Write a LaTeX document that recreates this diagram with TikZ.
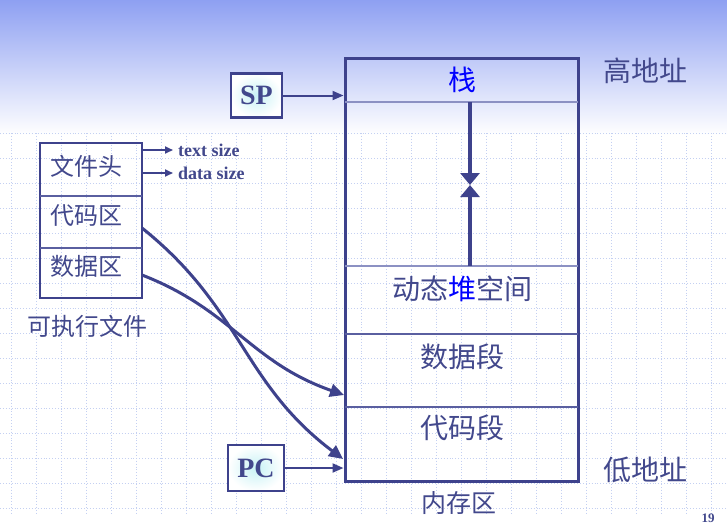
\documentclass[tikz,border=0pt]{standalone}
\usepackage{fontspec}
\setmainfont{Liberation Serif}
\newfontfamily\cjk{Noto Sans CJK SC}
\usetikzlibrary{arrows.meta}
\definecolor{ink}{RGB}{62,66,140}
\definecolor{txt}{RGB}{66,72,140}
\definecolor{lightdiv}{RGB}{140,145,195}
\definecolor{middiv}{RGB}{90,95,160}
\definecolor{gridc}{RGB}{196,208,242}
\definecolor{topblue}{RGB}{142,160,242}
\definecolor{regfill}{RGB}{200,242,245}
\tikzset{
  membox/.style={draw=ink, line width=3pt, minimum width=233pt, minimum height=423pt, inner sep=0pt},
  filebox/.style={draw=ink, line width=2.5pt, minimum width=102pt, minimum height=155pt, inner sep=0pt},
  regbox/.style={draw=ink, line width=2.5pt, inner sep=0pt, shading=radial, inner color=regfill, outer color=white, text=txt, font=\fontsize{28}{28}\selectfont\bfseries},
  memlabel/.style={text=txt, inner sep=0pt, font=\fontsize{28}{30}\selectfont\cjk},
  filelabel/.style={text=txt, inner sep=0pt, font=\fontsize{24}{26}\selectfont\cjk},
  sizelabel/.style={text=txt, inner sep=0pt, anchor=west, font=\fontsize{18}{18}\selectfont\bfseries},
  arr/.style={draw=ink, line width=2pt, -{Triangle[length=11pt,width=9pt]}},
  smallarr/.style={draw=ink, line width=1.8pt, -{Triangle[length=8pt,width=7pt]}},
  curvearr/.style={draw=ink, line width=3pt, -{Triangle[length=14pt,width=13pt]}},
  vline/.style={draw=ink, line width=4pt, -{Triangle[length=12pt,width=19pt]}},
  lightline/.style={draw=lightdiv, line width=2pt},
  midline/.style={draw=middiv, line width=1.6pt},
}
\begin{document}
\begin{tikzpicture}[x=1pt,y=-1pt]
\useasboundingbox (0,0) rectangle (727,528);
% background
\fill[white] (0,0) rectangle (727,528);
\shade[top color=topblue, bottom color=white] (0,0) rectangle (727,135);
\foreach \x in {11.7,36.7,...,727} \draw[gridc, dotted, line width=0.9pt] (\x,133) -- (\x,515);
\foreach \y in {133.3,158.3,...,510} \draw[gridc, dotted, line width=0.9pt] (0,\y) -- (727,\y);

% memory box
\node[membox] (mem) at (461.5,269.5) {};
\coordinate (s1l) at (345,102); \coordinate (s1r) at (578,102);
\coordinate (s2l) at (345,266); \coordinate (s2r) at (578,266);
\coordinate (s3l) at (345,334); \coordinate (s3r) at (578,334);
\coordinate (s4l) at (345,407); \coordinate (s4r) at (578,407);
\draw[lightline] (s1l) -- (s1r);
\draw[lightline] (s2l) -- (s2r);
\draw[midline] (s3l) -- (s3r);
\draw[midline] (s4l) -- (s4r);

\node[memlabel, text=blue] (stack) at (462,80) {栈};
\node[memlabel] (heap) at (462,289) {动态{\color{blue}堆}空间};
\node[memlabel] (dataseg) at (462,357) {数据段};
\node[memlabel] (codeseg) at (462,428) {代码段};
\node[filelabel, font=\fontsize{25}{26}\selectfont\cjk] (memname) at (459,503) {内存区};
\node[memlabel] (high) at (645,71) {高地址};
\node[memlabel] (low) at (645,470) {低地址};

% growth arrows
\coordinate (stacktop) at (470,102);
\coordinate (heaptop) at (470,266);
\coordinate (meet) at (470,185);
\draw[vline] (stacktop) -- (meet);
\draw[vline] (heaptop) -- (meet);

% registers
\node[regbox, minimum width=51pt, minimum height=44pt] (sp) at (256.5,95.5) {SP};
\node[regbox, minimum width=56pt, minimum height=46pt] (pc) at (256,468) {PC};
\draw[arr] (sp.east) -- (sp.east -| mem.west);
\draw[arr] (pc.east) -- (pc.east -| mem.west);

% executable file
\node[filebox] (exe) at (91,220.5) {};
\coordinate (e1l) at (40,196); \coordinate (e1r) at (142,196);
\coordinate (e2l) at (40,248); \coordinate (e2r) at (142,248);
\draw[midline] (e1l) -- (e1r);
\draw[midline] (e2l) -- (e2r);
\node[filelabel] (hdr) at (86,166) {文件头};
\node[filelabel] (codearea) at (86,216) {代码区};
\node[filelabel] (dataarea) at (86,266) {数据区};
\node[filelabel] (exename) at (87,326) {可执行文件};

\coordinate (ts0) at (142,150);
\coordinate (ds0) at (142,173);
\node[sizelabel] (ts) at (178,150) {text size};
\node[sizelabel] (ds) at (178,173) {data size};
\coordinate (ts1) at (173,150);
\coordinate (ds1) at (173,173);
\draw[smallarr] (ts0) -- (ts1);
\draw[smallarr] (ds0) -- (ds1);

% mapping curves
\coordinate (c1s) at (142,228);
\coordinate (c1e) at (343,459);
\coordinate (c2s) at (142,275);
\coordinate (c2e) at (344,395);
\draw[curvearr] (c1s) .. controls (242,308) and (242,383) .. (c1e);
\draw[curvearr] (c2s) .. controls (232,310) and (250,362) .. (c2e);

\node[text=txt, font=\fontsize{13}{13}\selectfont\bfseries] (pagenum) at (708,518) {19};
\end{tikzpicture}
\end{document}
